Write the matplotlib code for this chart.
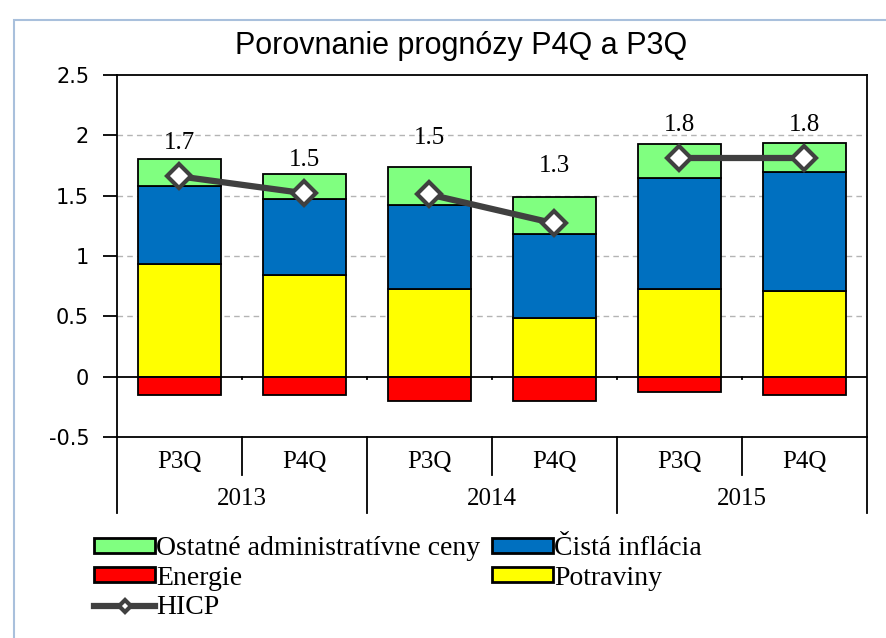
import matplotlib
matplotlib.use('Agg')
from matplotlib import pyplot as plt
from matplotlib.patches import Rectangle
import numpy as np

# data
years = ['2013', '2014', '2015']
forecasts = ['P3Q', 'P4Q', 'P3Q', 'P4Q', 'P3Q', 'P4Q']
potraviny = [0.93, 0.84, 0.73, 0.49, 0.73, 0.71]
cista = [0.65, 0.63, 0.69, 0.69, 0.92, 0.99]
ostatne = [0.22, 0.21, 0.32, 0.31, 0.28, 0.24]
energie = [-0.15, -0.15, -0.20, -0.20, -0.13, -0.15]
hicp = [1.66, 1.52, 1.51, 1.27, 1.81, 1.81]

serif = 'Liberation Serif'
x = np.arange(len(forecasts))
w = 0.66

fig = plt.figure(figsize=(8.87, 6.38), dpi=100)
ax = fig.add_axes([117 / 887, 1 - 437 / 638, 750 / 887, 362 / 638])

# light frame around the chart
fig.patches.append(Rectangle((14 / 887, -0.1), 1.2, 1 - 20 / 638 + 0.1,
                             transform=fig.transFigure, fill=False,
                             edgecolor='#a9c0dc', lw=1.5))

bar_kw = dict(width=w, edgecolor='black', linewidth=1.3, zorder=3)
b_pot = ax.bar(x, potraviny, color='#ffff00', label='Potraviny', **bar_kw)
b_cis = ax.bar(x, cista, bottom=potraviny, color='#0070c0',
               label='Čistá inflácia', **bar_kw)
bot2 = np.add(potraviny, cista)
b_ost = ax.bar(x, ostatne, bottom=bot2, color='#80ff80',
               label='Ostatné administratívne ceny', **bar_kw)
b_ene = ax.bar(x, energie, color='#ff0000', label='Energie', **bar_kw)

# HICP line, broken between years
ln = None
for i in range(0, len(x), 2):
    ln, = ax.plot(x[i:i + 2], hicp[i:i + 2], color='#404040', lw=4.5,
                  marker='D', ms=12, mfc='white', mec='#404040', mew=3,
                  zorder=5, label='HICP')

# value labels
offs = [24, 24, 41, 41, 24, 24]
for xi, v, o in zip(x, hicp, offs):
    ax.annotate(f'{v:.1f}', (xi, v), xytext=(0, o), textcoords='offset points',
                ha='center', va='center', fontsize=18, family=serif)

ax.set_xlim(-0.5, len(x) - 0.5)
ax.set_ylim(-0.5, 2.5)
ax.set_yticks([-0.5, 0, 0.5, 1, 1.5, 2, 2.5])
ax.set_yticklabels(['-0.5', '0', '0.5', '1', '1.5', '2', '2.5'])
ax.tick_params(axis='y', length=10, width=1.3, pad=10, labelsize=15)
ax.set_xticks([])
for y in [0.5, 1, 1.5, 2]:
    ax.axhline(y, color='#b4b4b4', lw=1, ls=(0, (4, 3)), zorder=1)
ax.axhline(0, color='black', lw=1.3, zorder=4)
for b in np.arange(0.5, len(x) - 1, 1):
    ax.plot([b, b], [0, -0.02], color='black', lw=1.3, zorder=4)
for s in ax.spines.values():
    s.set_linewidth(1.3)

# category labels below the axis
tr = ax.get_xaxis_transform()
for xi, f in zip(x, forecasts):
    ax.text(xi, -0.069, f, transform=tr, ha='center', va='center',
            fontsize=18, family=serif)
for k, yr in enumerate(years):
    ax.text(2 * k + 0.5, -0.171, yr, transform=tr, ha='center', va='center',
            fontsize=18, family=serif)
for b in np.arange(-0.5, len(x), 1):
    low = -0.21 if int(b + 0.5) % 2 == 0 else -0.105
    ax.plot([b, b], [0, low], color='black', lw=1.3, transform=tr,
            clip_on=False)

fig.text(461 / 887, 1 - 46 / 638, 'Porovnanie prognózy P4Q a P3Q',
         ha='center', va='center', fontsize=22, family='Liberation Sans')

handles = [b_ost, b_ene, ln, b_cis, b_pot]
leg = fig.legend(handles, [h.get_label() for h in handles], ncol=2,
                 loc='upper left', bbox_to_anchor=(94 / 887, 1 - 536 / 638),
                 frameon=False, borderpad=0, borderaxespad=0,
                 prop={'family': serif, 'size': 20}, handlelength=2.2,
                 handleheight=0.45, handletextpad=0.05, columnspacing=0.4,
                 labelspacing=0.17, markerscale=0.55)
for p in leg.get_patches():
    p.set_linewidth(2)

plt.savefig('out.png', format='png')
